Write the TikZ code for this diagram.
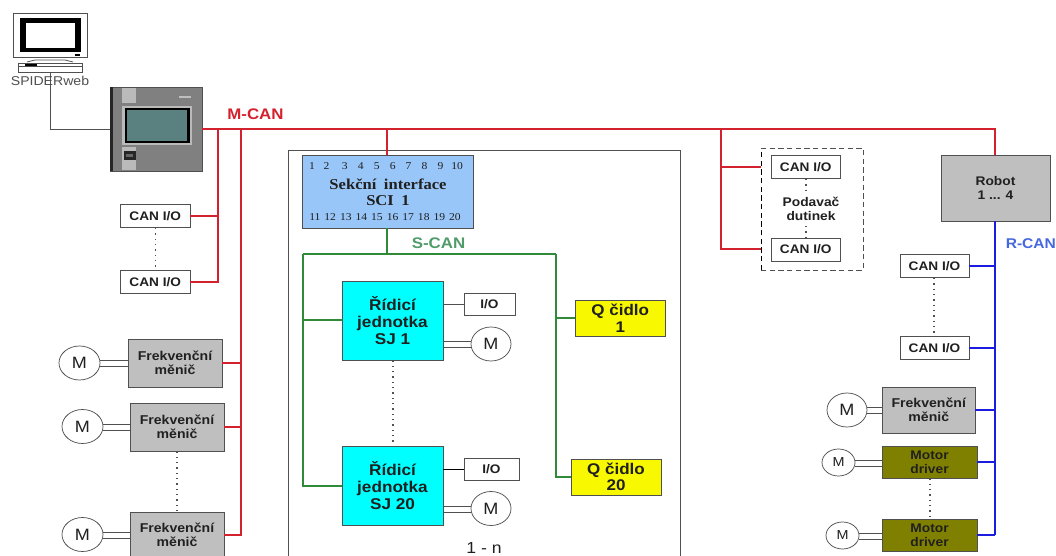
\documentclass[tikz,border=0pt]{standalone}
\usepackage{fontspec}
\setmainfont[FakeStretch=1.1]{Liberation Sans}
\newfontfamily\serifbox[FakeStretch=1.1]{Liberation Serif}
\usetikzlibrary{shapes.geometric}
\definecolor{mred}{HTML}{D3222E}
\definecolor{mgreen}{HTML}{2F8A3A}
\definecolor{lgreen}{HTML}{4F9C6A}
\definecolor{mblue}{HTML}{1C1CE0}
\definecolor{lblue}{HTML}{4568E0}
\definecolor{edgeg}{HTML}{505050}
\definecolor{txt}{HTML}{202020}
\definecolor{sjcyan}{HTML}{00FFFF}
\definecolor{qyellow}{HTML}{F8F800}
\definecolor{drvolive}{HTML}{808000}
\definecolor{scifill}{HTML}{99C6F8}
\definecolor{lcd}{HTML}{5A8080}
\tikzset{
  box/.style={draw=edgeg,line width=0.65pt,inner sep=0pt,align=center,text=txt},
  canbox/.style={box,fill=white,font=\fontsize{9.3}{11}\selectfont\bfseries},
  frekbox/.style={box,fill=black!25,font=\fontsize{9.6}{10.5}\selectfont\bfseries},
  drvbox/.style={box,fill=drvolive,font=\fontsize{9.4}{10.5}\selectfont\bfseries},
  sjbox/.style={box,fill=sjcyan,font=\fontsize{11.7}{12.7}\selectfont\bfseries},
  qbox/.style={box,fill=qyellow,font=\fontsize{11.6}{12.4}\selectfont\bfseries},
  motor/.style={ellipse,draw=edgeg,line width=0.55pt,fill=white,inner sep=0pt,text=txt},
  mcan/.style={draw=mred,line width=1.35pt},
  scan/.style={draw=mgreen,line width=1.15pt},
  rcan/.style={draw=mblue,line width=1.5pt},
  rstub/.style={draw=mblue,line width=1.15pt},
  cable/.style={draw=edgeg,line width=0.7pt},
  dotline/.style={draw=edgeg,line width=1pt,dash pattern=on 1pt off 3pt},
  buslabel/.style={font=\fontsize{11.5}{13}\selectfont\bfseries,inner sep=0pt},
}
% name, x1, y1, x2, y2, style, text
\newcommand{\bx}[7]{\node[#6,minimum width={(#4-#2)*0.75pt},minimum height={(#5-#3)*0.75pt}] (#1) at ({(#2+#4)/2},{(#3+#5)/2}) {#7};}
% name, cx, cy, rx, ry, size
\newcommand{\mot}[6]{\node[motor,minimum width={2*#4*0.75pt},minimum height={2*#5*0.75pt},font=\fontsize{#6}{#6}\selectfont] (#1) at (#2,#3) {M};}
% motor, box, y1, y2
\newcommand{\dbl}[4]{\draw[cable] (#1.east |- 0,#3) -- (#2.west |- 0,#3); \draw[cable] (#1.east |- 0,#4) -- (#2.west |- 0,#4);}
\begin{document}
\begin{tikzpicture}[x=0.75pt,y=-0.75pt]
\clip (0,0) rectangle (1056,556);
\fill[white] (0,0) rectangle (1056,556);
% --- workstation
\draw[edgeg,line width=0.7pt,fill=white] (13.5,13) rectangle (87,57.5);
\fill[black] (20,18.5) rectangle (80.5,52.5);
\fill[white] (25.5,23) rectangle (75,48);
\draw[edgeg,line width=0.6pt] (27,62) -- (35,60) -- (65,60) -- (73,62);
\fill[black] (75,54.5) rectangle (80,56);
\bx{pc}{18}{63}{82}{72.5}{box,line width=0.6pt,fill=white}{}
\fill[black] (25,64.5) rectangle (37,67);
\draw[edgeg,line width=0.6pt] (18,66.5) -- (82,66.5);
\node[font=\fontsize{9.6}{11}\selectfont,text=edgeg,inner sep=0pt] (spider) at (50,81) {SPIDERweb};
% --- controller
\bx{ctrl}{110}{87}{202}{171}{box,line width=0.6pt,fill=black!50}{}
\fill[black!85] (110,87) rectangle (112.5,171);
\fill[black!27] (122,88) rectangle (136,103.5);
\fill[black!27] (122,147) rectangle (136,170.5);
\fill[black!27] (122,106) rectangle (192,145);
\fill[black] (125,108) rectangle (189.5,143.5);
\fill[lcd] (127,110) rectangle (187,141);
\fill[black!85] (123.5,151) rectangle (135.5,160);
\fill[black!60] (126,154) rectangle (133,157);
\fill[black!25] (179,96) rectangle (191,98.5);
\draw[cable] (pc.south) |- (ctrl.west);
% --- M-CAN bus
\coordinate (mbusE) at (995,129);
\coordinate (busA) at (218,129);
\coordinate (busB) at (241,129);
\coordinate (busC) at (387,129);
\coordinate (busD) at (721,129);
\node[buslabel,text=mred] (mlabel) at (255.5,114) {M-CAN};
% CAN I/O left
\bx{canA}{120.5}{204.5}{190}{227.5}{canbox}{CAN I/O}
\bx{canB}{120.5}{270.5}{190}{293.5}{canbox}{CAN I/O}
\draw[dotline] (canA.south) -- (canB.north);
\draw[mcan] (canA.east) -- (canA.east -| busA);
\draw[mcan] (canB.east) -| (busA);
% Frekvencni left
\bx{frA}{128}{339}{222}{387}{frekbox}{Frekvenční\\měnič}
\bx{frB}{130}{403}{224}{451}{frekbox}{Frekvenční\\měnič}
\bx{frC}{130}{512}{224}{558}{frekbox}{Frekvenční\\měnič}
\mot{mA}{79.5}{363}{20.5}{17}{12.3}
\mot{mB}{82.5}{426.5}{20.5}{17}{12.3}
\mot{mC}{82.5}{534.5}{20.5}{17}{12.3}
\dbl{mA}{frA}{360}{366}
\dbl{mB}{frB}{424}{430}
\dbl{mC}{frC}{532}{538}
\draw[dotline] (frB.south -| 177,0) -- (frC.north -| 177,0);
\draw[mcan] (frA.east) -- (frA.east -| busB);
\draw[mcan] (frB.east) -- (frB.east -| busB);
\draw[mcan] (frC.east) -| (busB);
% --- section frame
\draw[edgeg,line width=0.7pt] (288.5,150) rectangle (680,570);
% Section interface
\bx{sci}{302}{155}{473}{228}{box,fill=scifill}{}
\node[font=\serifbox\fontsize{7.9}{9}\selectfont,inner sep=0pt,text=txt] (row1) at (386,166.5) {1\hspace{6.5pt}2\hspace{9.5pt}3\hspace{7.6pt}4\hspace{7.6pt}5\hspace{7.6pt}6\hspace{7.6pt}7\hspace{7.6pt}8\hspace{7.6pt}9\hspace{6pt}10};
\node[font=\serifbox\bfseries\fontsize{11.3}{12}\selectfont,inner sep=0pt,align=center,text=txt] (scitxt) at (388,192) {Sekční\hspace{0.5em}interface\\[0pt]SCI\hspace{0.5em}1};
\node[font=\serifbox\fontsize{7.9}{9}\selectfont,inner sep=0pt,text=txt] (row2) at (385,217) {11\hspace{3pt}12\hspace{3pt}13\hspace{3pt}14\hspace{3pt}15\hspace{3pt}16\hspace{3pt}17\hspace{3pt}18\hspace{3pt}19\hspace{3pt}20};
% S-CAN
\coordinate (sTop) at (387,254);
\coordinate (sL) at (303,254);
\coordinate (sR) at (556,254);
\node[buslabel,text=lgreen] (slabel) at (438.5,243.5) {S-CAN};
\draw[scan] (sci.south -| sTop) -- (sTop);
\draw[scan] (sL) -- (sR);
\bx{sjA}{342}{281}{443}{360}{sjbox}{\raisebox{2pt}{\parbox{70pt}{\centering Řídicí\\jednotka\\SJ 1}}}
\bx{sjB}{342}{446}{443}{525}{sjbox}{\raisebox{2pt}{\parbox{70pt}{\centering Řídicí\\jednotka\\SJ 20}}}
\draw[dotline] (sjA.south -| 393,0) -- (sjB.north -| 393,0);
\bx{ioA}{464}{293}{515}{315}{canbox}{I/O}
\bx{ioB}{464}{458}{519}{480}{canbox}{I/O}
\draw[cable] (sjA.east |- ioA.west) -- (ioA.west);
\draw[draw=black,line width=0.7pt] (sjB.east |- ioB.west) -- (ioB.west);
\mot{mS}{491}{344}{20}{17}{12.3}
\mot{mT}{491}{508.5}{20}{17}{12.3}
\draw[cable] (sjA.east |- 0,341) -- (mS.west |- 0,341);
\draw[cable] (sjA.east |- 0,347) -- (mS.west |- 0,347);
\draw[cable] (sjB.east |- 0,506) -- (mT.west |- 0,506);
\draw[cable] (sjB.east |- 0,512) -- (mT.west |- 0,512);
\bx{qA}{575.5}{300}{665}{336}{qbox}{\raisebox{1pt}{\parbox{60pt}{\centering Q čidlo\\1}}}
\bx{qB}{571}{459}{661}{495}{qbox}{\raisebox{1pt}{\parbox{60pt}{\centering Q čidlo\\20}}}
\draw[scan] (sL) |- (sjB.west |- 0,486);
\draw[scan] (sL |- 0,320) -- (sjA.west |- 0,320);
\draw[scan] (sR) |- (qB.west |- 0,477);
\draw[scan] (sR |- qA.west) -- (qA.west);
\node[font=\fontsize{12}{12}\selectfont,inner sep=0pt,text=txt] (onen) at (484,547.5) {1 - n};
% --- Feeder
\draw[black,line width=0.7pt,dash pattern=on 4pt off 2.5pt] (761,270) -- (761,148);
\draw[edgeg,line width=0.7pt,dash pattern=on 4pt off 2.5pt] (761,148) -- (863,148) -- (863,270) -- (761,270);
\bx{canC}{771}{155.5}{840.5}{178.5}{canbox}{CAN I/O}
\bx{canD}{771}{238}{840.5}{261}{canbox}{CAN I/O}
\node[font=\fontsize{9.4}{10.8}\selectfont\bfseries,align=center,inner sep=0pt,text=txt] (feed) at (811,209) {Podavač\\dutinek};
\draw[dotline] (canC.south -| 806,0) -- (806,190);
\draw[dotline] (806,226) -- (canD.north -| 806,0);
\coordinate (fL) at (761,167);
\coordinate (fM) at (761,249);
\draw[mcan] (fL) -- (fL -| busD);
\draw[mcan] (fM) -| (busD);
% --- Robot
\bx{robot}{941}{155}{1050}{221}{box,fill=black!25,font=\fontsize{9.4}{11}\selectfont\bfseries}{Robot\\1 ... 4}
\node[font=\fontsize{10.6}{13}\selectfont\bfseries,inner sep=0pt,text=lblue,anchor=west] (rlabel) at (1005.5,243.5) {R-CAN};
\coordinate (rEnd) at (995,535);
\bx{canE}{900}{254.5}{969}{277.5}{canbox}{CAN I/O}
\bx{canF}{900}{336.5}{969}{359.5}{canbox}{CAN I/O}
\draw[dotline] (canE.south -| 934,0) -- (canF.north -| 934,0);
\bx{frR}{882.5}{387}{975}{433}{frekbox}{Frekvenční\\měnič}
\bx{drA}{882}{446}{977}{478}{drvbox}{Motor\\driver}
\bx{drB}{882}{519}{977}{551}{drvbox}{Motor\\driver}
\draw[dotline] (drA.south -| 930,0) -- (drB.north -| 930,0);
\mot{mR}{847}{410}{20}{17}{12.3}
\mot{mU}{838.5}{462.5}{16.5}{13.5}{9.8}
\mot{mV}{842.5}{535.5}{16.5}{13.5}{9.8}
\dbl{mR}{frR}{407}{413}
\dbl{mU}{drA}{460}{466}
\dbl{mV}{drB}{533}{539}
\draw[rcan] (robot.south -| rEnd) -- (rEnd);
\draw[rstub] (canE.east) -- (canE.east -| rEnd);
\draw[rstub] (canF.east) -- (canF.east -| rEnd);
\draw[rstub] (frR.east) -- (frR.east -| rEnd);
\draw[rstub] (drA.east) -- (drA.east -| rEnd);
\draw[rstub] (drB.east) -- (drB.east -| rEnd);
% --- M-CAN main line, branches
\draw[mcan] (ctrl.east) -- (mbusE) -- (robot.north -| mbusE);
\draw[mcan] (busC) -- (sci.north -| busC);
\draw[mcan] (busA) -- (canA.east -| busA);
\draw[mcan] (busB) -- (frA.east -| busB);
\draw[mcan] (busD) -- (fL -| busD);
\end{tikzpicture}
\end{document}
